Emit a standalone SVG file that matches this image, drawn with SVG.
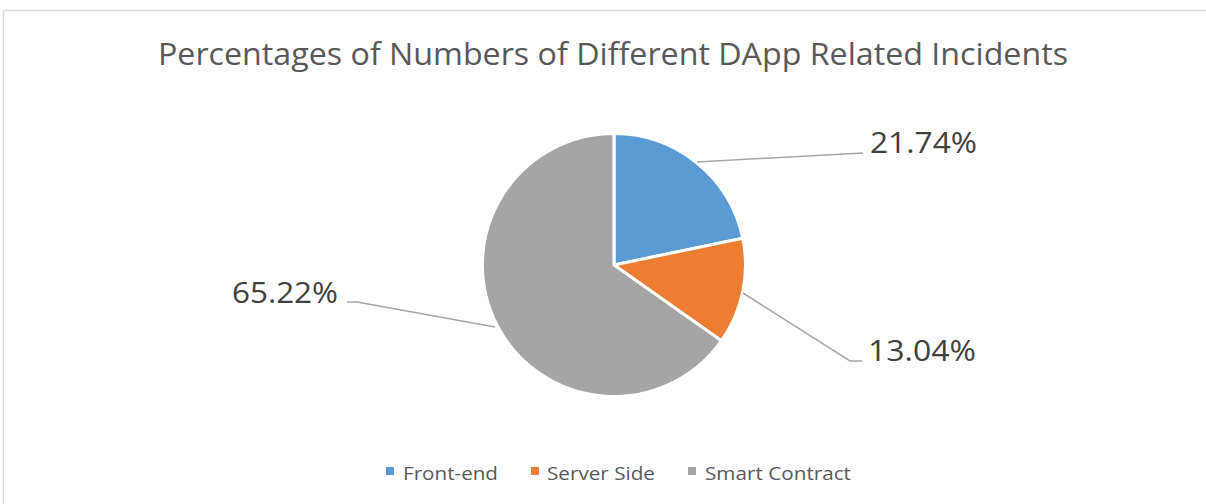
<svg xmlns="http://www.w3.org/2000/svg" width="1206" height="504" viewBox="0 0 1206 504">
<style>
.title{font-family:"Open Sans","Liberation Sans",sans-serif;font-size:31px;fill:#595959}
.lbl{font-family:"Open Sans","Liberation Sans",sans-serif;font-size:30px;fill:#404040}
.leg{font-family:"Open Sans","Liberation Sans",sans-serif;font-size:19px;fill:#595959}
.lead{fill:none;stroke:#a6a6a6;stroke-width:1.5}
.slice{stroke:#fff;stroke-width:3;stroke-linejoin:round}
</style>
<rect x="0" y="0" width="1206" height="504" fill="#fff"/>
<rect x="3.5" y="10.5" width="1220" height="510" fill="#fff" stroke="#d9d9d9" stroke-width="1.5"/>
<text class="title" x="158" y="65" textLength="910" lengthAdjust="spacingAndGlyphs">Percentages of Numbers of Different DApp Related Incidents</text>
<g id="slice-frontend"><path class="slice" fill="#5b9bd5" d="M614,265 L614,133.5 A131.5,131.5 0 0 1 742.75,238.24 Z"/></g>
<g id="slice-serverside"><path class="slice" fill="#ed7d31" d="M614,265 L742.75,238.24 A131.5,131.5 0 0 1 721.4,340.8 Z"/></g>
<g id="slice-smartcontract"><path class="slice" fill="#a5a5a5" d="M614,265 L721.4,340.8 A131.5,131.5 0 1 1 614,133.5 Z"/></g>
<g id="connectors">
<polyline class="lead" points="697,162 863,153"/>
<polyline class="lead" points="743,293 850,361 862,361"/>
<polyline class="lead" points="347,302 357,302 495,327"/>
</g>
<g id="label-frontend"><text class="lbl" x="870" y="153" textLength="107" lengthAdjust="spacingAndGlyphs">21.74%</text></g>
<g id="label-serverside"><text class="lbl" x="868" y="361" textLength="108" lengthAdjust="spacingAndGlyphs">13.04%</text></g>
<g id="label-smartcontract"><text class="lbl" x="232" y="303" textLength="106" lengthAdjust="spacingAndGlyphs">65.22%</text></g>
<g id="legend">
<rect x="386" y="467" width="8" height="8" fill="#5b9bd5"/>
<text class="leg" x="403" y="480" textLength="95" lengthAdjust="spacingAndGlyphs">Front-end</text>
<rect x="531" y="467" width="8" height="8" fill="#ed7d31"/>
<text class="leg" x="547" y="480" textLength="108" lengthAdjust="spacingAndGlyphs">Server Side</text>
<rect x="688" y="467" width="8" height="8" fill="#a5a5a5"/>
<text class="leg" x="705" y="480" textLength="146" lengthAdjust="spacingAndGlyphs">Smart Contract</text>
</g>
</svg>
